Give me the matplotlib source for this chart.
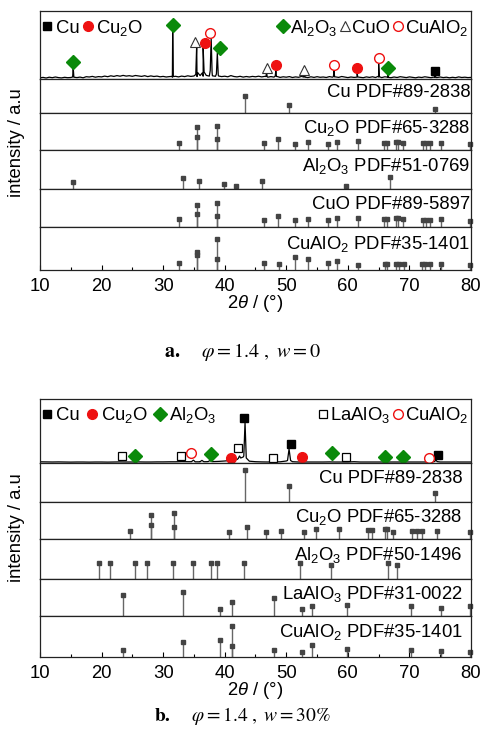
import numpy as np
import matplotlib
matplotlib.use("Agg")
import matplotlib.pyplot as plt

plt.rcParams['font.family'] = ['Liberation Sans', 'DejaVu Sans']
plt.rcParams['mathtext.fontset'] = 'custom'
plt.rcParams['mathtext.rm'] = 'Liberation Sans'
plt.rcParams['mathtext.it'] = 'Liberation Sans:italic'
plt.rcParams['mathtext.bf'] = 'Liberation Sans:bold'

FS = 13.3

# ---------------- panel a: measured pattern ----------------
base_a_x = np.arange(10, 80.01, 0.5)
base_a_y = [1.2, 1.6, 1.0, 1.8, 1.3, 2.0, 1.4, 1.1, 1.7, 1.3,
            1.5, 2.2, 1.4, 1.9, 1.2, 2.3, 2.0, 2.6, 1.8, 2.4,
            2.1, 2.9, 2.3, 3.2, 2.6, 3.4, 2.8, 3.6, 2.9, 3.3,
            2.7, 3.5, 3.0, 2.6, 3.3, 2.4, 3.1, 2.5, 2.9, 2.2,
            2.6, 2.0, 2.4, 1.8, 2.7, 2.1, 2.9, 2.4, 3.2, 2.6,
            3.0, 2.5, 3.4, 2.8, 3.6, 2.9, 3.2, 2.7, 3.0, 2.4,
            2.8, 2.2, 3.4, 2.5, 2.1, 2.7, 1.9, 2.5, 2.0, 2.6,
            2.2, 2.8, 2.1, 2.6, 1.8, 2.4, 1.9, 2.5, 1.6, 2.2,
            1.8, 2.4, 1.5, 2.1, 1.7, 2.6, 1.9, 1.4, 2.2, 1.6,
            2.3, 1.7, 2.0, 1.5, 2.4, 1.8, 2.1, 1.6, 2.5, 1.9,
            1.4, 2.0, 1.6, 2.3, 1.7, 1.3, 2.1, 1.6, 2.2, 1.5,
            2.0, 1.4, 2.2, 1.7, 1.3, 2.0, 1.5, 2.3, 1.8, 1.4,
            2.1, 1.6, 1.2, 1.9, 1.5, 2.2, 1.7, 1.3, 1.9, 1.5,
            2.0, 1.4, 1.8, 1.2, 1.7, 1.3, 2.1, 1.5, 1.8, 1.4,
            1.6]
peak_a_x = [15.3, 15.4, 15.5, 31.45, 31.55, 31.65, 35.3, 35.45, 35.6,
            36.35, 36.5, 36.65, 37.65, 37.8, 37.95, 38.65, 38.8, 38.95,
            46.7, 46.8, 46.9, 48.2, 48.3, 48.4, 52.8, 52.9, 53.0,
            57.65, 57.75, 57.85, 61.4, 61.5, 61.6, 64.9, 65.0, 65.1,
            66.4, 66.5, 66.6, 74.1, 74.2, 74.3]
peak_a_y = [2.0, 11, 1.8, 2.6, 49, 2.4, 4.5, 34, 6.5,
            6.0, 31, 7.0, 8.5, 41, 6.5, 5.0, 26, 4.0,
            2.5, 7, 2.2, 2.8, 8, 2.5, 1.9, 5, 2.0,
            2.3, 8, 2.1, 1.8, 7, 2.0, 2.6, 15, 2.3,
            1.9, 5, 1.6, 1.6, 4.5, 1.5]

# phase markers on pattern a: (2theta, height)
mk_a = {
    'Cu': ([74.2], [8]),
    'Cu2O': ([36.8, 48.3, 61.5], [35.7, 14, 11.3]),
    'Al2O3': ([15.4, 31.55, 39.2, 66.5], [17.3, 54, 30.7, 11.3]),
    'CuO': ([35.1, 46.8, 52.9], [37.3, 10.7, 9]),
    'CuAlO2': ([37.6, 57.75, 65.0], [45.7, 14, 20.7]),
}

# reference cards, panel a
cu_a_x = [43.3, 50.5, 74.2]
cu_a_h = [17.5, 8.5, 4.5]
cu2o_a_x = [32.6, 35.45, 35.45, 38.8, 38.8, 46.3, 48.7, 51.4, 53.5, 56.8, 58.3,
            61.6, 65.9, 66.3, 67.9, 68.2, 69.0, 72.2, 72.7, 73.3, 75.2, 79.8]
cu2o_a_h = [6.7, 23.3, 12.7, 24.3, 11, 6.7, 11, 6, 7.7, 6, 8.3,
            8.7, 7.3, 7.3, 8.3, 8.3, 6.7, 6.7, 6.7, 6.7, 7.3, 6]
al2o3_a_x = [15.4, 33.2, 35.8, 39.9, 41.8, 46.1, 59.65, 66.8]
al2o3_a_h = [7.3, 11, 8, 5, 2.7, 8.3, 3.3, 12]
cuo_a_x = cu2o_a_x
cuo_a_h = [7.7, 22, 12.7, 23.7, 11, 6.7, 10.7, 6.7, 8.3, 6.7, 8.7,
           9.3, 8.3, 8.3, 9, 9, 7.7, 6.7, 6.7, 6.7, 8.3, 6]
cualo2_a_x = [32.6, 35.45, 35.45, 38.8, 38.8, 46.3, 48.8, 51.4, 53.5, 56.8, 58.3,
              61.6, 66.0, 66.4, 67.9, 68.3, 69.1, 72.0, 72.6, 73.3, 75.2, 79.8]
cualo2_a_h = [7.3, 17.7, 15.3, 31, 11, 7.3, 6, 13.3, 11, 6.7, 9.3,
              5, 6, 6, 6, 6, 6, 5.7, 5.7, 5.7, 5.7, 5.3]

# ---------------- panel b: measured pattern ----------------
base_b_x = np.arange(10, 81, 1.0)
base_b_y = [1.2, 1.1, 1.0, 1.1, 1.0, 0.9, 1.0, 1.0, 0.9, 1.0,
            1.0, 0.9, 1.0, 1.1, 1.0, 1.0, 1.1, 1.0, 1.0, 1.1,
            1.1, 1.2, 1.2, 1.4, 1.3, 2.4, 1.2, 1.3, 1.4, 1.6,
            2.0, 2.6, 3.5, 6.0, 1.8, 1.3, 1.1, 1.0, 1.1, 1.2,
            2.0, 1.3, 1.0, 1.0, 1.0, 1.0, 1.0, 1.1, 1.0, 1.0,
            1.0, 1.3, 1.0, 1.0, 1.0, 1.0, 1.0, 1.0, 1.0, 1.0,
            1.0, 1.0, 1.0, 1.0, 1.4, 1.0, 1.0, 1.0, 1.0, 1.0,
            1.0]
peak_b_x = [34.6, 34.9, 35.2, 36.0, 36.3, 36.6, 37.3, 37.6, 37.9,
            42.2, 42.4, 42.6, 43.1, 43.3, 43.5, 50.2, 50.45, 50.7,
            74.1, 74.3, 74.5]
peak_b_y = [1.3, 2.8, 1.2, 1.3, 2.6, 1.3, 1.4, 2.4, 1.4,
            4.5, 7.0, 5.0, 7.0, 41, 5.0, 2.5, 14, 2.5,
            1.5, 3.0, 1.4]

mk_b = {
    'Cu': ([43.2, 50.7, 74.7], [44.7, 19, 8]),
    'Cu2O': ([41.1, 52.6], [4.7, 5.7]),
    'Al2O3': ([25.4, 37.8, 57.4, 66.1, 68.9], [7, 9, 10.3, 6.3, 6.3]),
    'LaAlO3': ([23.3, 32.9, 42.2, 47.9, 59.7], [7, 7, 15.3, 5.3, 5.7]),
    'CuAlO2': ([34.5, 73.2], [9.7, 5.3]),
}

cu_b_x = [43.3, 50.5, 74.2]
cu_b_h = [31.6, 15.6, 9.3]
cu2o_b_x = [24.6, 28.0, 28.0, 31.8, 31.8, 40.7, 43.6, 46.7, 49.1, 52.9, 54.8,
            58.6, 63.3, 64.0, 66.0, 66.3, 67.3, 70.4, 71.2, 72.0, 74.4, 79.8]
cu2o_b_h = [7.7, 24.3, 14, 25.7, 12.3, 7, 12.3, 7, 8.3, 7, 10,
            10.3, 9, 9, 10, 10, 6.7, 7.7, 7.7, 7.7, 7.7, 6.7]
al2o3_b_x = [19.6, 21.3, 25.4, 27.4, 31.6, 34.9, 37.7, 38.7, 43.2, 52.3, 57.2, 66.6, 68.0]
al2o3_b_h = [15.7, 15.7, 15.7, 15.7, 15.7, 15.7, 15.7, 15.7, 15.7, 15.7, 14.3, 15.7, 14.3]
laalo3_b_x = [23.4, 33.3, 39.3, 41.2, 48.0, 52.55, 54.1, 59.8, 70.2, 75.1, 79.9]
laalo3_b_h = [21, 24.3, 7.3, 14.3, 17.7, 7.3, 10, 11, 10, 7.7, 10]
cualo2_b_x = [23.4, 33.3, 39.3, 41.2, 41.2, 48.0, 52.55, 54.1, 59.8, 70.2, 75.2, 79.9]
cualo2_b_h = [6.7, 15, 16.7, 30.7, 10.7, 6.7, 5, 12.3, 8.3, 6.7, 5.7, 5]

# marker styles per phase
STYLE = {
    'Cu': dict(marker='s', ms=6.0, color='black', label='Cu'),
    'Cu2O': dict(marker='o', ms=7.0, color='#ee1111', label=r'Cu$_2$O'),
    'Al2O3': dict(marker='D', ms=7.2, color='#0a8a0a', label=r'Al$_2$O$_3$'),
    'CuO': dict(marker='^', ms=7.0, mfc='white', mec='#333333', mew=0.8, color='#333333', label='CuO'),
    'CuAlO2': dict(marker='o', ms=7.0, mfc='white', mec='#ee1111', mew=1.0, color='#ee1111', label=r'CuAlO$_2$'),
    'LaAlO3': dict(marker='s', ms=5.5, mfc='white', mec='black', mew=0.9, color='black', label=r'LaAlO$_3$'),
}

W, H = 484, 748
L, R = 40, 471


def rect(top, bottom):
    return [L / W, 1 - bottom / H, (R - L) / W, (bottom - top) / H]


def style_axes(ax, height):
    ax.set_xlim(10, 80)
    ax.set_ylim(0, height)
    ax.set_yticks([])
    ax.tick_params(axis='x', which='both', bottom=False, labelbottom=False)
    for s in ax.spines.values():
        s.set_linewidth(0.9)
        s.set_color('#222222')


def draw_pattern(ax, bx, by, px, py, marks, height):
    x = np.concatenate([bx, px])
    y = np.concatenate([by, py])
    order = np.argsort(x, kind='stable')
    ax.plot(x[order], y[order], color='black', lw=0.9)
    handles = {}
    for name, (mx, my) in marks.items():
        h, = ax.plot(mx, my, ls='none', clip_on=False, **STYLE[name])
        handles[name] = h
    style_axes(ax, height)
    return handles


def draw_card(ax, xs, hs, label, height, xr):
    ax.vlines(xs, 0, hs, color='#666666', lw=1.0)
    ax.plot(xs, hs, ls='none', marker='s', ms=3.0, color='#444444', clip_on=False)
    ax.text(xr, 0.6, label, transform=ax.transAxes, ha='right', va='center', fontsize=FS)
    style_axes(ax, height)


def add_legends(ax, handles, left, right, colsp_left, ytop):
    lg1 = ax.legend([handles[k] for k in left], [STYLE[k]['label'] for k in left],
                    loc='upper left', bbox_to_anchor=(0, ytop), ncol=len(left),
                    frameon=False, fontsize=FS, handlelength=0.5, handletextpad=0.2,
                    columnspacing=colsp_left, borderaxespad=0.0, borderpad=0.15,
                    numpoints=1)
    ax.add_artist(lg1)
    ax.legend([handles[k] for k in right], [STYLE[k]['label'] for k in right],
              loc='upper right', bbox_to_anchor=(1, ytop), ncol=len(right),
              frameon=False, fontsize=FS, handlelength=0.5, handletextpad=0.15,
              columnspacing=0.15, borderaxespad=0.0, borderpad=0.15, numpoints=1)


def draw_panel(fig, edges, pattern, marks, cards, left, right, colsp_left, xr, ytop):
    heights = [b - t for t, b in zip(edges[:-1], edges[1:])]
    ax0 = fig.add_axes(rect(edges[0], edges[1]))
    handles = draw_pattern(ax0, *pattern, marks, heights[0])
    add_legends(ax0, handles, left, right, colsp_left, ytop)
    axes = [ax0]
    for i, (xs, hs, label) in enumerate(cards):
        ax = fig.add_axes(rect(edges[i + 1], edges[i + 2]))
        draw_card(ax, xs, hs, label, heights[i + 1], xr)
        axes.append(ax)
    last = axes[-1]
    last.set_xticks(range(10, 81, 10))
    last.set_xticks(range(15, 80, 10), minor=True)
    last.tick_params(axis='x', which='both', bottom=True, labelbottom=True,
                     direction='in', labelsize=FS, pad=6)
    last.tick_params(axis='x', which='major', length=3.5, width=0.8)
    last.tick_params(axis='x', which='minor', length=2.0, width=0.8)
    last.set_xlabel(r'2$\theta$ / (°)', fontsize=FS, labelpad=-1.5)
    return axes


fig = plt.figure(figsize=(W / 100, H / 100), dpi=100)

cards_a = [
    (cu_a_x, cu_a_h, 'Cu PDF#89-2838'),
    (cu2o_a_x, cu2o_a_h, r'Cu$_2$O PDF#65-3288'),
    (al2o3_a_x, al2o3_a_h, r'Al$_2$O$_3$ PDF#51-0769'),
    (cuo_a_x, cuo_a_h, 'CuO PDF#89-5897'),
    (cualo2_a_x, cualo2_a_h, r'CuAlO$_2$ PDF#35-1401'),
]
draw_panel(fig, [11, 79, 113, 150, 189, 227, 270],
           (base_a_x, base_a_y, peak_a_x, peak_a_y), mk_a, cards_a,
           ['Cu', 'Cu2O'], ['Al2O3', 'CuO', 'CuAlO2'], 0.2, 0.998, 0.94)

cards_b = [
    (cu_b_x, cu_b_h, 'Cu PDF#89-2838'),
    (cu2o_b_x, cu2o_b_h, r'Cu$_2$O PDF#65-3288'),
    (al2o3_b_x, al2o3_b_h, r'Al$_2$O$_3$ PDF#50-1496'),
    (laalo3_b_x, laalo3_b_h, r'LaAlO$_3$ PDF#31-0022'),
    (cualo2_b_x, cualo2_b_h, r'CuAlO$_2$ PDF#35-1401'),
]
draw_panel(fig, [399, 463, 502, 539, 579, 616, 657],
           (base_b_x, base_b_y, peak_b_x, peak_b_y), mk_b, cards_b,
           ['Cu', 'Cu2O', 'Al2O3'], ['LaAlO3', 'CuAlO2'], 0.45, 0.98, 0.95)

# y labels and captions
fig.text(17 / W, 1 - 143 / H, 'intensity / a.u', rotation=90, ha='center', va='center', fontsize=FS)
fig.text(17 / W, 1 - 528 / H, 'intensity / a.u', rotation=90, ha='center', va='center', fontsize=FS)
fig.text(0.5, 1 - 352 / H, r'$\mathbf{a.}\quad\ \varphi{=}1.4\ ,\ w{=}0$',
         math_fontfamily='stix', ha='center', va='center', fontsize=14.5)
fig.text(0.5, 1 - 716 / H, r'$\mathbf{b.}\quad\ \varphi{=}1.4\ ,\ w{=}30\%$',
         math_fontfamily='stix', ha='center', va='center', fontsize=14)

fig.savefig('out.png', dpi=100)
